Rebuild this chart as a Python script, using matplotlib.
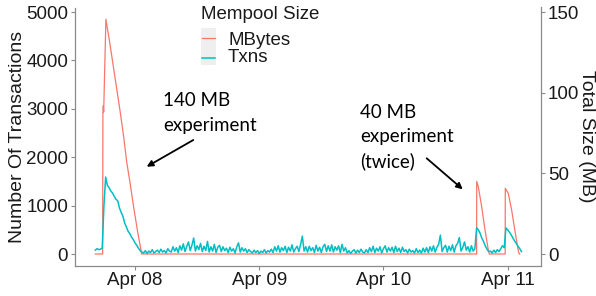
import matplotlib
matplotlib.use('Agg')
import matplotlib.pyplot as plt
import matplotlib.dates as mdates
import matplotlib.patches as mpatches
import pandas as pd
import numpy as np
from matplotlib.lines import Line2D
from matplotlib.patches import Rectangle

plt.rcParams['font.family'] = ['Liberation Sans', 'DejaVu Sans']

# ---------------- data ----------------
base = pd.Timestamp('2019-04-08 00:00')

# Mempool size in MB: breakpoints (hours relative to Apr 08 00:00)
mb_hours = [-7.67, -6.25, -6.2, -6.12, -6.05, -5.62, -4.83, -3.54, -2.90,
            -2.2, -1.60, -0.95, -0.33, 0.5, 1.29,
            66.0, 66.02, 66.33, 66.98, 67.62, 68.26, 68.45,
            71.52, 71.54, 72.12, 72.78, 73.42, 74.05, 74.25, 74.33]
mb_values = [0, 0, 87, 92, 88, 145.5, 130.0, 102.5, 89.0,
             73, 57, 44, 30.5, 14, 0,
             0, 45, 41.7, 29.3, 14.9, 2.5, 0,
             0, 40.7, 37.6, 27, 14, 2, 0, 0]

# Number of transactions, one reading every 20 minutes from Apr 07 16:20
txn_start = pd.Timestamp('2019-04-07 16:20')
txn_step_min = 20
txn_values = [
    # before experiment 1
    80, 110, 90, 100, 120,
    # experiment 1
    1000, 1590, 1420, 1370, 1300, 1260, 1190, 1130, 1100, 950, 860, 780, 640,
    560, 470, 420, 350, 300, 230, 180, 120, 70, 40,
    # background traffic
    20, 70, 10, 60, 30, 90, 20, 50, 80, 30, 100, 40, 70, 20, 110, 60,
    40, 150, 60, 130, 30, 170, 80, 210, 50, 160, 250, 70, 180, 330, 60, 170, 90,
    220, 50, 160, 70, 260, 40, 150, 60, 200, 30, 140, 180, 50, 150, 70,
    120, 30, 140, 60, 110, 20, 150, 230, 40, 130, 60, 110, 30, 90, 50,
    20, 80, 30, 70, 10, 60, 30, 90, 20, 70, 40,
    100, 30, 150, 60, 170, 40, 130, 70, 160, 30, 140, 60, 190, 40, 110, 160, 50, 200, 370,
    60, 150, 40, 160, 70, 130, 30, 180, 60, 140, 30, 150, 200, 50, 170,
    60, 190, 40, 150, 80, 170, 30, 200, 60, 130,
    20, 70, 10, 60, 90, 20, 80, 30, 100, 40, 20,
    90, 30, 130, 50, 160, 30, 120, 60, 150, 20, 110, 170, 40, 130, 60, 140, 30, 160, 50,
    120, 30, 140, 50, 90, 20, 100, 40, 70, 20, 110, 30, 80, 20, 120,
    40, 130, 30, 150, 60, 170, 40, 140, 200, 390, 50, 130, 180, 40, 160,
    70, 190, 40, 170, 220, 340, 60, 140, 250, 80, 150, 40, 170, 60, 110,
    # experiment 2
    540, 500, 430, 330, 260, 170, 100, 50,
    # gap
    60, 20, 80, 30, 90, 50, 110, 170, 130,
    # experiment 3
    540, 500, 450, 400, 330, 270, 220, 160, 110, 50,
]

legend_title = 'Mempool Size'
series_labels = ['MBytes', 'Txns']
day_ticks = ['2019-04-08', '2019-04-09', '2019-04-10', '2019-04-11']
left_ticks = [0, 1000, 2000, 3000, 4000, 5000]
right_ticks = [0, 50, 100, 150]
note1 = ['140 MB', 'experiment']
note2 = ['40 MB', 'experiment', '(twice)']

# ---------------- style ----------------
RED = '#F8766D'
CYAN = '#00BFC4'
SPINE = '#8a8a8a'
TXT = '#1a1a1a'
W, H = 596, 296
scale = 5000 / 150  # MB -> transactions axis


def fx(px):
    return px / W


def fy(py):
    return 1 - py / H


fig = plt.figure(figsize=(W / 100, H / 100), dpi=100)
ax = fig.add_axes([fx(75), fy(265.5), (541 - 75) / W, (265.5 - 7.5) / H])

mb_t = (base + pd.to_timedelta(mb_hours, unit='h')).values
txn_t = (txn_start + pd.to_timedelta(np.arange(len(txn_values)) * txn_step_min, unit='m')).values

ax.plot(mb_t, np.array(mb_values) * scale, color=RED, lw=0.9, zorder=2)
ax.plot(txn_t, txn_values, color=CYAN, lw=1.1, zorder=3)

x0 = base + pd.Timedelta(hours=-11.59)
x1 = base + pd.Timedelta(hours=78.44)
ax.set_xlim(mdates.date2num(x0.to_pydatetime()), mdates.date2num(x1.to_pydatetime()))
ylim = (-237.6, 5093)
ax.set_ylim(*ylim)

ax.set_xticks([mdates.date2num(pd.Timestamp(d).to_pydatetime()) for d in day_ticks])
ax.xaxis.set_major_formatter(mdates.DateFormatter('%b %d'))
ax.set_yticks(left_ticks)

ax2 = ax.twinx()
ax2.set_ylim(ylim[0] / scale, ylim[1] / scale)
ax2.set_yticks(right_ticks)

for a in (ax, ax2):
    a.spines['top'].set_visible(False)
    for s in a.spines.values():
        s.set_color(SPINE)
        s.set_linewidth(0.9)
    a.tick_params(axis='both', length=3, width=0.8, color=SPINE,
                  labelsize=13.5, labelcolor=TXT, pad=2)
ax.spines['right'].set_visible(False)
ax2.spines['left'].set_visible(False)
ax2.spines['bottom'].set_visible(False)

fig.text(fx(17.5), fy(137), 'Number Of Transactions', rotation=90,
         ha='center', va='center', fontsize=14, color=TXT)
fig.text(fx(587), fy(136.5), 'Total Size (MB)', rotation=270,
         ha='center', va='center', fontsize=14, color=TXT)

# legend
fig.text(fx(201), fy(19.3), legend_title, ha='left', va='baseline', fontsize=13.5, color=TXT)
fig.add_artist(Rectangle((fx(200.7), fy(65)), (216 - 200.7) / W, (65 - 28.3) / H,
                         transform=fig.transFigure, facecolor='#efefef', edgecolor='none'))
for yk, col, lw in ((38, RED, 0.9), (58, CYAN, 1.1)):
    fig.add_artist(Line2D([fx(201.7), fx(215)], [fy(yk), fy(yk)],
                          transform=fig.transFigure, color=col, lw=lw))
fig.text(fx(228), fy(45), series_labels[0], ha='left', va='baseline', fontsize=13.5, color=TXT)
fig.text(fx(228), fy(61.7), series_labels[1], ha='left', va='baseline', fontsize=13.5, color=TXT)

# annotations
for line, yb in zip(note1, (106, 131)):
    fig.text(fx(163), fy(yb), line, ha='left', va='baseline', fontsize=13.5,
             family=['Lato', 'DejaVu Sans'], color='black')
for line, yb in zip(note2, (117.5, 142.5, 167)):
    fig.text(fx(360), fy(yb), line, ha='left', va='baseline', fontsize=13.5,
             family=['Lato', 'DejaVu Sans'], color='black')

arrow_style = dict(arrowstyle='-|>', color='black', lw=1.3, mutation_scale=9,
                   shrinkA=0, shrinkB=0)
fig.add_artist(mpatches.FancyArrowPatch((fx(193.3), fy(140)), (fx(146.7), fy(166.7)),
                                        transform=fig.transFigure, **arrow_style))
fig.add_artist(mpatches.FancyArrowPatch((fx(426.7), fy(158.3)), (fx(462.7), fy(189.3)),
                                        transform=fig.transFigure, **arrow_style))

fig.savefig('out.png', dpi=100)
